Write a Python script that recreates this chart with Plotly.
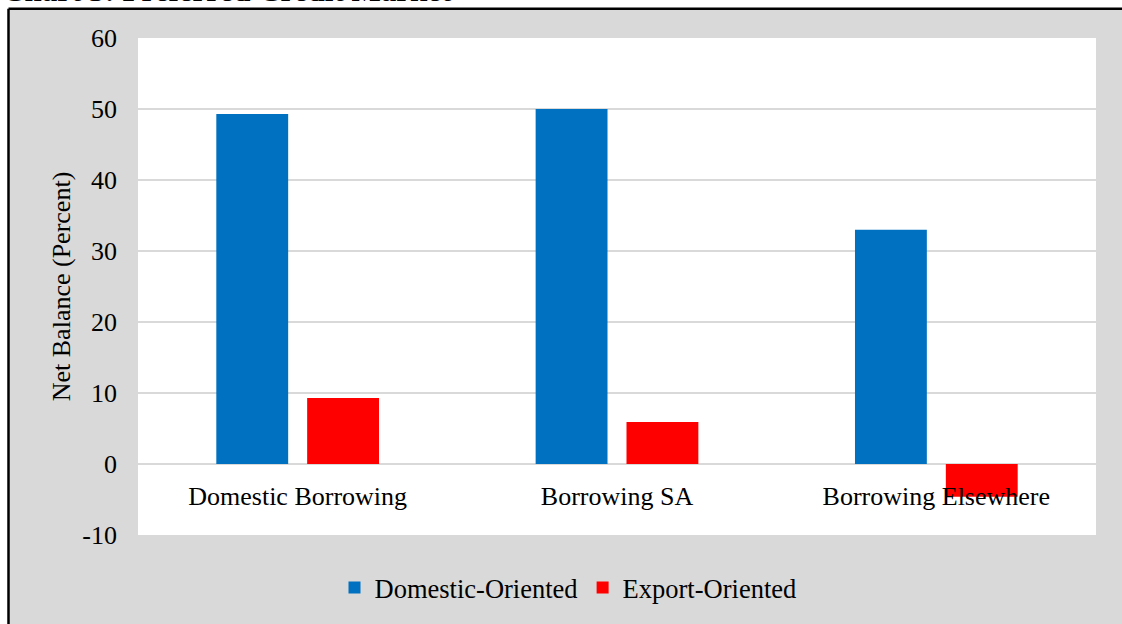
import plotly.graph_objects as go

categories = ["Domestic Borrowing", "Borrowing SA", "Borrowing Elsewhere"]
domestic_oriented = [49.3, 50.0, 33.0]
export_oriented = [9.3, 5.9, -4.6]
y_ticks = [-10, 0, 10, 20, 30, 40, 50, 60]
y_tick_labels = ["-10", "0", "10", "20", "30", "40", "50", "60"]

FONT = "Liberation Serif, Times New Roman, serif"

W, H = 1122, 624
L, R, T, B = 138, 26, 38, 86
pw = W - L - R
ph = H - T - B

def px_x(p):
    return (p - L) / pw

def px_y(p):
    return (H - B - p) / ph

fig = go.Figure()
fig.add_trace(go.Bar(x=categories, y=domestic_oriented, name="Domestic-Oriented",
                     marker=dict(color="#0070C0", line=dict(width=0))))
fig.add_trace(go.Bar(x=categories, y=export_oriented, name="Export-Oriented",
                     marker=dict(color="#FF0000", line=dict(width=0))))

fig.update_layout(
    width=W, height=H,
    margin=dict(l=L, r=R, t=T, b=B, pad=0),
    paper_bgcolor="white",
    plot_bgcolor="white",
    barmode="group",
    bargap=0.431,
    bargroupgap=0.209,
    font=dict(family=FONT, size=26, color="black"),
    showlegend=True,
    legend=dict(orientation="h", x=px_x(568), xanchor="center",
                y=px_y(591), yanchor="middle",
                font=dict(family=FONT, size=26.5, color="black"),
                bgcolor="rgba(0,0,0,0)", itemwidth=30, tracegroupgap=0),
    xaxis=dict(type="category", anchor="free", position=1/7,
               showline=False, showgrid=False, ticks="",
               ticklabelstandoff=14,
               tickfont=dict(family=FONT, size=26, color="black"),
               automargin=False),
    yaxis=dict(range=[-10, 60], tickvals=y_ticks, ticktext=y_tick_labels,
               showgrid=True, gridcolor="#d9d9d9", gridwidth=2,
               zeroline=True, zerolinecolor="#d9d9d9", zerolinewidth=2,
               showline=False, ticks="", ticklabelstandoff=20,
               tickfont=dict(family=FONT, size=26, color="black"),
               title=dict(text="Net Balance (Percent)", standoff=4,
                          font=dict(family=FONT, size=26, color="black")),
               automargin=False),
    shapes=[dict(type="rect", xref="paper", yref="paper",
                 x0=px_x(8.5), x1=px_x(1400), y0=px_y(800), y1=px_y(8.5),
                 fillcolor="#d9d9d9", line=dict(width=0),
                 layer="below"),
            dict(type="line", xref="paper", yref="paper",
                 x0=px_x(8.5), x1=px_x(1400), y0=px_y(8.5), y1=px_y(8.5),
                 line=dict(color="black", width=2.5), layer="below"),
            dict(type="line", xref="paper", yref="paper",
                 x0=px_x(8.5), x1=px_x(8.5), y0=px_y(800), y1=px_y(8.5),
                 line=dict(color="black", width=2.5), layer="below"),
            dict(type="rect", xref="paper", yref="paper",
                 x0=0, x1=1, y0=0, y1=1,
                 fillcolor="white", line=dict(width=0),
                 layer="below")],
    annotations=[dict(text="<b>Chart 3: Preferred Credit Market</b>",
                      xref="paper", yref="paper", x=px_x(0), xanchor="left",
                      y=px_y(-10), yanchor="middle", showarrow=False,
                      font=dict(family=FONT, size=31, color="black"))],
)

fig.write_html("out.html")
